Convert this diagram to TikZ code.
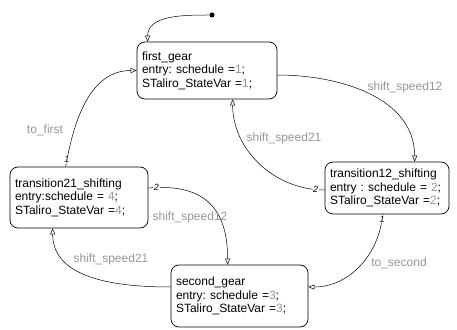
\documentclass[tikz,border=0pt]{standalone}
\usepackage{fontspec}
\setmainfont{Liberation Sans}
\usetikzlibrary{arrows.meta}
\definecolor{lblgray}{RGB}{150,150,150}
\newcommand{\val}[1]{\textcolor{lblgray}{#1}}
\frenchspacing

\begin{document}
\begin{tikzpicture}[x=1pt, y=1pt,
    every node/.style = {font=\fontsize{12}{13.5}\selectfont},
    state_box/.style = {draw, rounded corners=8pt, align=left,
      inner xsep=5pt, inner ysep=0pt, line width=0.7pt},
    trans_label/.style = {text=lblgray},
    exec_order/.style = {font=\fontsize{9}{9}\selectfont\itshape,
      fill=white, inner sep=0.6pt},
    trans/.style = {-{Triangle[open, length=6pt, width=5pt]}, line width=0.5pt},
    init_dot/.style = {circle, fill, inner sep=0pt, minimum size=5pt},
    ]
    \useasboundingbox (0,0) rectangle (457,329);

    % states
    \node [state_box, text width=130pt, minimum height=57pt] (first_gear) at (207,258.5)
      {first\_gear\\entry: schedule =\val{1};\\STaliro\_StateVar =\val{1};};
    \node [state_box, text width=128pt, minimum height=61pt] (trans21) at (79,131.5)
      {transition21\_shifting\\entry:schedule = \val{4};\\STaliro\_StateVar =\val{4};};
    \node [state_box, text width=114pt, minimum height=52pt] (trans12) at (387,141)
      {transition12\_shifting\\entry : schedule = \val{2};\\STaliro\_StateVar =\val{2};};
    \node [state_box, text width=127pt, minimum height=62pt] (second_gear) at (239.5,33)
      {second\_gear\\entry: schedule =\val{3};\\STaliro\_StateVar =\val{3};};

    % default transition
    \node [init_dot] (init) at (212,314) {};
    \draw [trans] (init) to[out=180, in=90] ([xshift=11pt]first_gear.north west);

    % transitions
    \draw [trans] ([xshift=56pt]trans21.north west)
      to[out=80, in=180] node[exec_order, pos=0.05] {1} (first_gear.west);
    \draw [trans] ([yshift=-4.5pt]first_gear.east)
      to[out=0, in=90] ([xshift=90pt]trans12.north west);
    \draw [trans] ([yshift=-2pt]trans12.west)
      to[out=180, in=-90] node[exec_order, pos=0.06] {2} ([xshift=96pt]first_gear.south west);
    \draw [trans] ([yshift=9.5pt]trans21.east)
      to[out=5, in=90, looseness=1.3] node[exec_order, pos=0.05] {2} ([xshift=57pt]second_gear.north west);
    \draw [trans] ([xshift=58pt]trans12.south west)
      to[out=-95, in=0] node[exec_order, pos=0.04] {1} ([yshift=9pt]second_gear.east);
    \draw [trans] ([yshift=9pt]second_gear.west)
      to[out=180, in=-90] ([xshift=43pt]trans21.south west);

    % labels
    \node [trans_label] (lbl_to_first) at (45,199) {to\_first};
    \node [trans_label] (lbl_s12_top) at (405,242) {shift\_speed12};
    \node [trans_label] (lbl_s21_top) at (284,191) {shift\_speed21};
    \node [trans_label] (lbl_s12_mid) at (190,112) {shift\_speed12};
    \node [trans_label] (lbl_to_second) at (399,66) {to\_second};
    \node [trans_label] (lbl_s21_bot) at (111,70) {shift\_speed21};

\end{tikzpicture}
\end{document}
